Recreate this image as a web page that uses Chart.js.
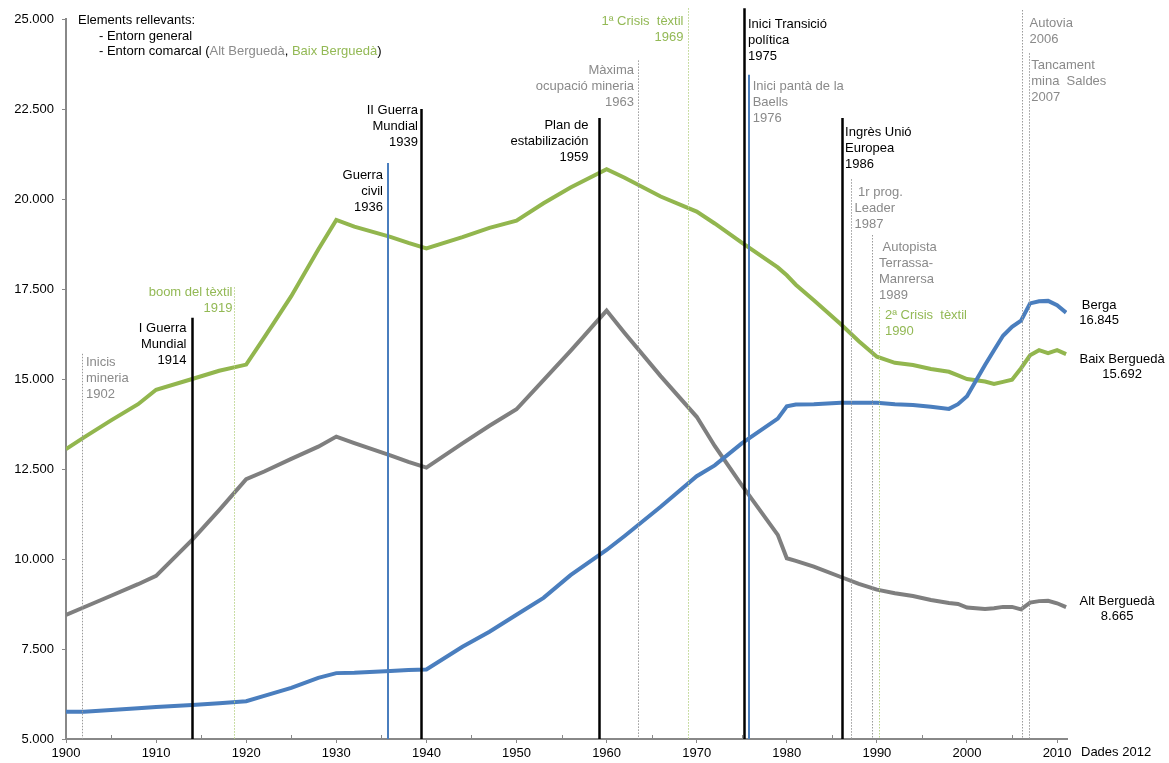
<!DOCTYPE html>
<html><head><meta charset="utf-8">
<script src="https://cdn.jsdelivr.net/npm/chart.js@4.4.1/dist/chart.umd.min.js"></script>
<style>html,body{margin:0;padding:0;background:#fff;}#wrap{position:relative;width:1169px;height:763px;}</style>
</head><body><div id="wrap"><canvas id="c" width="1169" height="763"></canvas></div>
<script>
// ---------------- DATA ----------------
const years = [1900,1902,1905,1908,1910,1914,1917,1920,1922,1925,1928,1930,1932,1936,1938,1940,1944,1947,1950,1953,1956,1960,1962,1966,1970,1972,1975,1979,1980,1981,1983,1986,1988,1990,1992,1994,1996,1998,1999,2000,2002,2003,2004,2005,2006,2007,2008,2009,2010,2011];
const berga = [5760,5760,5805,5855,5890,5945,5995,6050,6200,6420,6700,6830,6840,6890,6920,6930,7560,7980,8450,8920,9550,10250,10640,11450,12300,12600,13210,13900,14240,14290,14300,14340,14340,14340,14300,14280,14230,14170,14300,14520,15390,15800,16200,16450,16620,17100,17160,17170,17050,16845];
const baixBergueda = [13050,13380,13850,14300,14700,15000,15230,15400,16150,17300,18600,19420,19230,18950,18780,18630,18940,19200,19400,19880,20320,20830,20590,20070,19650,19320,18790,18100,17880,17620,17190,16520,16050,15620,15450,15390,15280,15200,15100,15000,14930,14860,14920,14980,15300,15660,15800,15720,15800,15692];
const altBergueda = [8450,8660,8980,9300,9530,10530,11360,12220,12430,12780,13120,13400,13220,12880,12700,12540,13210,13700,14160,14970,15780,16900,16280,15080,13950,13140,12050,10670,10020,9950,9790,9500,9310,9150,9050,8970,8860,8780,8750,8650,8610,8630,8670,8670,8600,8790,8830,8840,8770,8665];
const seriesNames = ["Berga","Baix Berguedà","Alt Berguedà"];
const seriesEndValues = ["16.845","15.692","8.665"];
const yTickValues = [5000,7500,10000,12500,15000,17500,20000,22500,25000];
const xLabelYears = [1900,1910,1920,1930,1940,1950,1960,1970,1980,1990,2000,2010];
const sourceNote = "Dades 2012";

// events (date on the time axis, value at which the marker line starts, text)
const eventDates = [1901.8,1914.0,1918.65,1935.75,1939.4,1959.2,1963.45,1969.0,1975.2,1975.8,1986.1,1987.1,1989.5,1990.2,2006.1,2006.9];
const eventTops = [15700,16700,17550,21000,22500,22250,23850,25300,25300,23450,22250,20550,19000,17000,25250,24050];
const eventKinds = ["alt","general","baix","civil","general","general","alt","baix","general","civilAlt","general","alt","alt","baix","alt","alt"];
const eventLabels = [
  ["Inicis","mineria","1902"],
  ["I Guerra","Mundial","1914"],
  ["boom del tèxtil","1919"],
  ["Guerra","civil","1936"],
  ["II Guerra","Mundial","1939"],
  ["Plan de","estabilización","1959"],
  ["Màxima","ocupació mineria","1963"],
  ["1ª Crisis  tèxtil","1969"],
  ["Inici Transició","política","1975"],
  ["Inici pantà de la","Baells","1976"],
  ["Ingrès Unió","Europea","1986"],
  [" 1r prog.","Leader","1987"],
  [" Autopista","Terrassa-","Manrersa","1989"],
  ["2ª Crisis  tèxtil","1990"],
  ["Autovia","2006"],
  ["Tancament","mina  Saldes","2007"]
];
const legendTitle = "Elements rellevants:";
const legendLine1 = "- Entorn general";
const legendLine2 = ["- Entorn comarcal (", "Alt Berguedà", ", ", "Baix Berguedà", ")"];

// ---------------- STYLE / LAYOUT ----------------
const FONT = '13px "Liberation Sans", Arial, sans-serif';
const C_BLUE = '#4A7EBE', C_GREEN = '#92B64E', C_GRAY = '#7F7F7F', C_AXIS = '#888888';
const C_TXT_GRAY = '#8A8A8A', C_TXT_GREEN = '#93B955';
// label layout per event: side (-1 right-aligned left of line, 1 left-aligned right of line), dx gap, dy of first line center from line top
const eventSide = [1,-1,-1,-1,-1,-1,-1,-1,1,1,1,1,1,1,1,1];
const eventGap  = [3.5,6,2,5,3.5,11,4.5,5,3.5,3.7,2.6,3,6.5,5.4,7,1.7];
const eventDy   = [9,10.7,5.3,12.3,1.5,7.7,10,13.3,16,11.7,14.3,13.3,12,8,13.3,12.3];
const endLabelDx = [33,56,51];
const endLabelDy = [-7.6,5.7,-5.3];

function fmt(v){ return String(v).replace(/\B(?=(\d{3})+(?!\d))/g,'.'); }

function kindStyle(k){
  switch(k){
    case 'general': return {color:'#000', width:2.5, dash:[], text:'#000'};
    case 'civil': return {color:C_BLUE, width:2, dash:[], text:'#000'};
    case 'civilAlt': return {color:C_BLUE, width:2, dash:[], text:C_TXT_GRAY};
    case 'alt': return {color:'#9a9a9a', width:1, dash:[1.5,1.5], text:C_TXT_GRAY};
    case 'baix': return {color:'#b9d38a', width:1, dash:[1.5,1.5], text:C_TXT_GREEN};
  }
}

const annotPlugin = {
  id:'annot',
  afterDatasetsDraw(chart){
    const ctx = chart.ctx, xs = chart.scales.x, ys = chart.scales.y, ca = chart.chartArea;
    ctx.save();
    ctx.font = FONT;
    ctx.textBaseline = 'middle';
    // event lines and labels
    eventDates.forEach((d,i)=>{
      const st = kindStyle(eventKinds[i]);
      const x = Math.round(xs.getPixelForValue(d)) + (st.width%2 ? 0.5 : 0);
      const yTop = ys.getPixelForValue(eventTops[i]);
      ctx.beginPath();
      ctx.strokeStyle = st.color; ctx.lineWidth = st.width; ctx.setLineDash(st.dash);
      ctx.moveTo(x, yTop); ctx.lineTo(x, ca.bottom);
      ctx.stroke();
      ctx.setLineDash([]);
      ctx.fillStyle = st.text;
      ctx.textAlign = eventSide[i] < 0 ? 'right' : 'left';
      const tx = x + eventSide[i]*eventGap[i];
      eventLabels[i].forEach((ln,j)=>{ ctx.fillText(ln, tx, yTop + eventDy[i] + j*16); });
    });
    // minor inside ticks on x axis
    ctx.strokeStyle = C_AXIS; ctx.lineWidth = 1;
    for (const t of xs.ticks){
      if (t.value % 10 !== 0){
        const x = Math.round(xs.getPixelForValue(t.value)) + 0.5;
        ctx.beginPath(); ctx.moveTo(x, ca.bottom); ctx.lineTo(x, ca.bottom-4); ctx.stroke();
      }
    }
    // end labels
    ctx.fillStyle = '#000'; ctx.textAlign = 'center';
    const dsList = [berga, baixBergueda, altBergueda];
    dsList.forEach((arr,i)=>{
      const lx = xs.getPixelForValue(years[years.length-1]) + endLabelDx[i];
      const ly = ys.getPixelForValue(arr[arr.length-1]) + endLabelDy[i];
      ctx.fillText(seriesNames[i], lx, ly);
      ctx.fillText(seriesEndValues[i], lx, ly + 15);
    });
    // source note
    ctx.textAlign = 'left';
    ctx.fillText(sourceNote, ca.right + 14, ca.bottom + 13);
    // legend box
    ctx.fillText(legendTitle, ca.left + 12, ca.top + 1.5);
    ctx.fillText(legendLine1, ca.left + 33, ca.top + 17);
    let lx = ca.left + 33;
    const cols = ['#000', C_TXT_GRAY, '#000', C_TXT_GREEN, '#000'];
    legendLine2.forEach((s,i)=>{
      ctx.fillStyle = cols[i];
      ctx.fillText(s, lx, ca.top + 32.5);
      lx += ctx.measureText(s).width;
    });
    ctx.restore();
  }
};

const toPts = arr => years.map((y,i)=>({x:y, y:arr[i]}));

new Chart(document.getElementById('c'), {
  type:'line',
  data:{ datasets:[
    {label:seriesNames[0], data:toPts(berga), borderColor:C_BLUE, borderWidth:4, pointRadius:0, tension:0, order:0},
    {label:seriesNames[1], data:toPts(baixBergueda), borderColor:C_GREEN, borderWidth:4, pointRadius:0, tension:0, order:1},
    {label:seriesNames[2], data:toPts(altBergueda), borderColor:C_GRAY, borderWidth:4, pointRadius:0, tension:0, order:2}
  ]},
  options:{
    responsive:false, animation:false, devicePixelRatio:1,
    layout:{padding:{left:0, top:19, right:102, bottom:0}},
    plugins:{legend:{display:false}, tooltip:{enabled:false}},
    scales:{
      x:{ type:'linear', min:1900, max:2011.1,
        afterFit(s){ s.height = 24; },
        afterBuildTicks(s){ const t=[]; for(let v=1900; v<=2010; v+=5) t.push({value:v}); s.ticks=t; },
        ticks:{ autoSkip:false, maxRotation:0, padding:3, color:'#000', font:{family:'"Liberation Sans", Arial, sans-serif', size:13},
          callback:(v)=> xLabelYears.includes(v) ? String(v) : '' },
        grid:{ drawOnChartArea:false, drawTicks:true, tickLength:4, color:(c)=> (c.tick && c.tick.value%10===0) ? C_AXIS : 'rgba(0,0,0,0)', lineWidth:1 },
        border:{ color:C_AXIS, width:2 }
      },
      y:{ type:'linear', min:5000, max:25000,
        afterFit(s){ s.width = 66; },
        afterBuildTicks(s){ s.ticks = yTickValues.map(v=>({value:v})); },
        ticks:{ padding:8, color:'#000', font:{family:'"Liberation Sans", Arial, sans-serif', size:13}, callback:(v)=>fmt(v) },
        grid:{ drawOnChartArea:false, drawTicks:true, tickLength:4, color:C_AXIS, lineWidth:1 },
        border:{ color:C_AXIS, width:2 }
      }
    }
  },
  plugins:[annotPlugin]
});
</script></body></html>
